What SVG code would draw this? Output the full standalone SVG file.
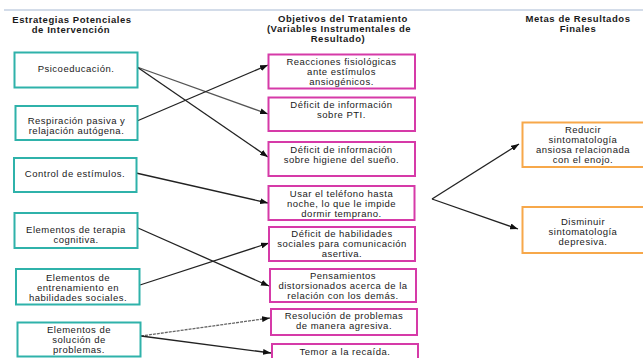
<svg xmlns="http://www.w3.org/2000/svg" width="643" height="358" viewBox="0 0 643 358">
<style>
text{font-family:"Liberation Sans",Arial,sans-serif;font-size:9.5px;fill:#1a1a1a;text-anchor:middle;letter-spacing:0.5px}
.h{font-weight:bold;letter-spacing:0.55px}
.t{fill:#fff;stroke:#2fb2aa;stroke-width:2}
.m{fill:#fff;stroke:#d63aa8;stroke-width:2}
.o{fill:#fff;stroke:#f7a84a;stroke-width:2}
.c{fill:none;stroke:#222;stroke-width:1.3;marker-end:url(#a)}
</style>
<defs>
<marker id="a" viewBox="0 0 8 6" refX="8" refY="3" markerWidth="8" markerHeight="6" markerUnits="userSpaceOnUse" orient="auto">
<path d="M0,0 L8,3 L0,6 z" fill="#111"/>
</marker>
</defs>
<rect width="643" height="358" fill="#fff"/>
<line x1="4" y1="10" x2="643" y2="10" stroke="#c5d0e2" stroke-width="1.5"/>
<g id="headers">
<text class="h" x="72" y="23">Estrategias Potenciales</text>
<text class="h" x="71" y="33">de Intervención</text>
<text class="h" x="343" y="22">Objetivos del Tratamiento</text>
<text class="h" x="339" y="32">(Variables Instrumentales de</text>
<text class="h" x="338" y="42">Resultado)</text>
<text class="h" x="578" y="22">Metas de Resultados</text>
<text class="h" x="578" y="32">Finales</text>
</g>
<g id="connectors">
<line class="c" x1="137" y1="67" x2="268" y2="114" style="stroke:#555"/>
<line class="c" x1="137" y1="67" x2="268" y2="157"/>
<line class="c" x1="137" y1="121" x2="268" y2="65"/>
<line class="c" x1="136" y1="173" x2="268" y2="203"/>
<line class="c" x1="138" y1="228" x2="269" y2="286"/>
<line class="c" x1="140" y1="285" x2="269" y2="243"/>
<line class="c" x1="141" y1="336" x2="270" y2="318" style="stroke:#666;stroke-dasharray:3 1"/>
<line class="c" x1="141" y1="336" x2="271" y2="353"/>
<line class="c" x1="432" y1="199" x2="519" y2="144"/>
<line class="c" x1="432" y1="199" x2="518" y2="229"/>
</g>
<g id="n-psico"><rect class="t" x="14.5" y="52.5" width="123" height="35"/><text x="76" y="72">Psicoeducación.</text></g>
<g id="n-resp"><rect class="t" x="15.5" y="106" width="122" height="34"/><text x="76.5" y="123.5">Respiración pasiva y</text><text x="76.5" y="134">relajación autógena.</text></g>
<g id="n-control"><rect class="t" x="14" y="158" width="122.5" height="34"/><text x="75" y="177">Control de estímulos.</text></g>
<g id="n-terapia"><rect class="t" x="14.5" y="213" width="123" height="35"/><text x="76" y="232.5">Elementos de terapia</text><text x="76" y="242.5">cognitiva.</text></g>
<g id="n-entren"><rect class="t" x="16" y="269" width="123.5" height="35.5"/><text x="78" y="281">Elementos de</text><text x="78" y="291">entrenamiento en</text><text x="78" y="301">habilidades sociales.</text></g>
<g id="n-solucion"><rect class="t" x="17.5" y="322.5" width="123" height="34"/><text x="79" y="333">Elementos de</text><text x="79" y="343">solución de</text><text x="79" y="353">problemas.</text></g>
<g id="n-reacciones"><rect class="m" x="268.5" y="54.5" width="146.5" height="34"/><text x="341.5" y="65">Reacciones fisiológicas</text><text x="341.5" y="75">ante estímulos</text><text x="341.5" y="85">ansiogénicos.</text></g>
<g id="n-pti"><rect class="m" x="268.5" y="97.5" width="146.5" height="33.5"/><text x="341.5" y="108">Déficit de información</text><text x="341.5" y="118">sobre PTI.</text></g>
<g id="n-higiene"><rect class="m" x="268.5" y="142" width="146.5" height="34"/><text x="341.5" y="153">Déficit de información</text><text x="341.5" y="163">sobre higiene del sueño.</text></g>
<g id="n-telefono"><rect class="m" x="268.5" y="186" width="146" height="34"/><text x="341.5" y="197">Usar el teléfono hasta</text><text x="341.5" y="207">noche, lo que le impide</text><text x="341.5" y="217">dormir temprano.</text></g>
<g id="n-habilidades"><rect class="m" x="269" y="227" width="146" height="34"/><text x="342" y="237">Déficit de habilidades</text><text x="342" y="247">sociales para comunicación</text><text x="342" y="257">asertiva.</text></g>
<g id="n-pensamientos"><rect class="m" x="270" y="269" width="146" height="33"/><text x="343" y="279">Pensamientos</text><text x="343" y="289">distorsionados acerca de la</text><text x="343" y="299">relación con los demás.</text></g>
<g id="n-resolucion"><rect class="m" x="271" y="309" width="146" height="26"/><text x="344" y="319">Resolución de problemas</text><text x="344" y="329">de manera agresiva.</text></g>
<g id="n-temor"><rect class="m" x="272" y="344" width="146" height="20"/><text x="345" y="355">Temor a la recaída.</text></g>
<g id="n-reducir"><rect class="o" x="522.5" y="122.5" width="124" height="44.5"/><text x="583" y="133">Reducir</text><text x="583" y="143">sintomatología</text><text x="583" y="153">ansiosa relacionada</text><text x="583" y="163">con el enojo.</text></g>
<g id="n-disminuir"><rect class="o" x="522.5" y="207" width="124" height="46"/><text x="583" y="225">Disminuir</text><text x="583" y="235">sintomatología</text><text x="583" y="245">depresiva.</text></g>
</svg>
